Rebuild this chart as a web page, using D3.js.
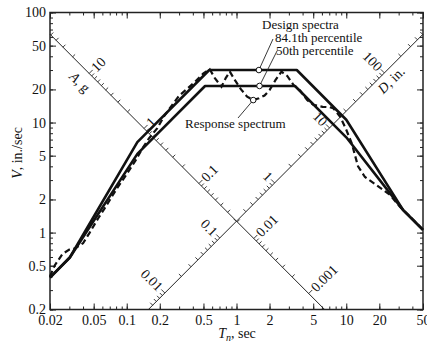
<!DOCTYPE html>
<html>
<head>
<meta charset="utf-8">
<script src="https://cdn.jsdelivr.net/npm/d3@7"></script>
<style>
  body { margin: 0; background: #fff; }
  svg text { font-family: "Liberation Serif", "Times New Roman", serif; fill: #111; }
</style>
</head>
<body>
<div id="chart"></div>
<script>
////////////////////////////////////////////////////
  // design spectra, T in sec and V in in./sec
  var design84_T = [0.02, 0.0303, 0.125, 0.565, 3.54, 10, 33, 50];
  var design84_V = [0.39, 0.594, 6.64, 30.0, 30.0, 10.6, 1.6, 1.06];
  var design50_T = [0.02, 0.0303, 0.125, 0.517, 3.41, 10, 33, 50];
  var design50_V = [0.39, 0.594, 5.19, 21.5, 21.5, 7.34, 1.6, 1.06];

  // response spectrum (dashed)
  var response_T = [0.02, 0.022, 0.026, 0.030, 0.034, 0.040, 0.046, 0.055, 0.065, 0.08,
                    0.10, 0.12, 0.14, 0.16, 0.19, 0.22, 0.26, 0.30, 0.36, 0.42,
                    0.50, 0.57, 0.64, 0.73, 0.80, 0.87, 0.95, 1.1, 1.25, 1.42,
                    1.6, 1.8, 2.0, 2.27, 2.57, 2.9, 3.3, 3.8, 4.4, 5.0,
                    6.1, 7.0, 7.6, 8.8, 10, 11.2, 12.8, 14.8, 18.9, 25,
                    30.8, 40, 50];
  var response_V = [0.40, 0.50, 0.64, 0.70, 0.72, 0.80, 1.0, 1.35, 1.75, 2.45,
                    3.4, 4.5, 5.9, 7.2, 8.9, 11.5, 14.5, 17.5, 20.5, 23.5,
                    28, 30.5, 25, 21.2, 25.5, 29, 25, 20, 17.2, 16.0,
                    16.6, 17.6, 19.7, 24.4, 29.0, 26.5, 22, 19.5, 16, 14.5,
                    13.9, 13.8, 13.5, 11.3, 8.6, 6.5, 4.0, 3.2, 2.7, 2.2,
                    1.72, 1.33, 1.06];

  // tick labels
  var xLabels = [0.02, 0.05, 0.1, 0.2, 0.5, 1, 2, 5, 10, 20, 50];
  var yLabels = [0.2, 0.5, 1, 2, 5, 10, 20, 50, 100];
  var aLabels = [10, 1, 0.1, 0.01, 0.001];   // A, g
  var dLabels = [0.01, 0.1, 1, 10, 100];     // D, in.

  // markers on the curves (T, V)
  var markT = [1.6, 1.62, 1.42];
  var markV = [30.0, 21.5, 16.0];

////////////////////////////////////////////////////

  var W = 427, H = 349;
  var margin = {top: 12.5, right: 4, bottom: 39.5, left: 50};
  var width = W - margin.left - margin.right,
      height = H - margin.top - margin.bottom;

  var g_over_2pi = 386.09 / (2 * Math.PI);
  var c_axis = 1.27;   // diagonal axes: V*T = c (A axis), V/T = c (D axis)

  var xScale = d3.scaleLog().domain([0.02, 50]).range([0, width]);
  var yScale = d3.scaleLog().domain([0.2, 100]).range([height, 0]);

  var svg = d3.select("#chart").append("svg")
      .attr("width", W)
      .attr("height", H)
      .append("g")
      .attr("transform", "translate(" + margin.left + "," + margin.top + ")");

  function logTicks(lo, hi) {
    var out = [];
    for (var k = -3; k <= 3; k++) {
      for (var m = 1; m <= 9; m++) {
        var v = +(m * Math.pow(10, k)).toPrecision(6);
        if (v >= lo * 0.9999 && v <= hi * 1.0001) out.push(v);
      }
    }
    return out;
  }

  var fmt = function(d) { return d3.format("~g")(d); };

  ////// Axes (ticks inward) /////////////
  var xMinor = logTicks(0.02, 50);
  var yMinor = logTicks(0.2, 100);

  svg.append("g").attr("class", "axis")
      .attr("transform", "translate(0," + height + ")")
      .call(d3.axisBottom(xScale).tickValues(xMinor).tickSize(-3).tickFormat(""));
  svg.append("g").attr("class", "axis")
      .attr("transform", "translate(0," + height + ")")
      .call(d3.axisBottom(xScale).tickValues(xLabels).tickSize(-6).tickPadding(6).tickFormat(fmt));
  svg.append("g").attr("class", "axis")
      .call(d3.axisTop(xScale).tickValues(xMinor).tickSize(-3).tickFormat(""));
  svg.append("g").attr("class", "axis")
      .call(d3.axisTop(xScale).tickValues(xLabels).tickSize(-6).tickFormat(""));

  svg.append("g").attr("class", "axis")
      .call(d3.axisLeft(yScale).tickValues(yMinor).tickSize(-3).tickFormat(""));
  svg.append("g").attr("class", "axis")
      .call(d3.axisLeft(yScale).tickValues(yLabels).tickSize(-6).tickPadding(4).tickFormat(fmt));
  svg.append("g").attr("class", "axis")
      .attr("transform", "translate(" + width + ",0)")
      .call(d3.axisRight(yScale).tickValues(yMinor).tickSize(-3).tickFormat(""));
  svg.append("g").attr("class", "axis")
      .attr("transform", "translate(" + width + ",0)")
      .call(d3.axisRight(yScale).tickValues(yLabels).tickSize(-6).tickFormat(""));

  svg.selectAll(".axis .domain").remove();
  svg.selectAll(".axis line").attr("stroke", "#222").attr("stroke-width", 1);
  svg.selectAll(".axis text").attr("font-size", 14).attr("fill", "#111");

  svg.append("rect")
      .attr("width", width).attr("height", height)
      .attr("fill", "none").attr("stroke", "#222").attr("stroke-width", 1.5);

  ////// Diagonal axes /////////////
  var diag = svg.append("g").attr("class", "diag");
  var s2 = Math.SQRT1_2;

  // A axis: V = c/T, from left edge down to bottom edge
  var aStart = [0.02, c_axis / 0.02], aEnd = [c_axis / 0.2, 0.2];
  diag.append("line")
      .attr("x1", xScale(aStart[0])).attr("y1", yScale(aStart[1]))
      .attr("x2", xScale(aEnd[0])).attr("y2", yScale(aEnd[1]))
      .attr("stroke", "#222").attr("stroke-width", 1);

  // D axis: V = c*T, from bottom edge up to right edge
  var dStart = [0.2 / c_axis, 0.2], dEnd = [50, c_axis * 50];
  diag.append("line")
      .attr("x1", xScale(dStart[0])).attr("y1", yScale(dStart[1]))
      .attr("x2", xScale(dEnd[0])).attr("y2", yScale(dEnd[1]))
      .attr("stroke", "#222").attr("stroke-width", 1);

  function aPoint(a) {   // where the A axis meets the constant-A line
    var T = Math.sqrt(c_axis / (g_over_2pi * a));
    return [xScale(T), yScale(c_axis / T), T];
  }
  function dPoint(d) {   // where the D axis meets the constant-D line
    var T = Math.sqrt(2 * Math.PI * d / c_axis);
    return [xScale(T), yScale(c_axis * T), T];
  }

  var aTicks = logTicks(0.0001, 100).filter(function(a) {
    var p = aPoint(a); return p[2] >= 0.02 && p[2] <= aEnd[0];
  });
  var dTicks = logTicks(0.0001, 1000).filter(function(d) {
    var p = dPoint(d); return p[2] >= dStart[0] && p[2] <= 50;
  });

  diag.selectAll(".atick").data(aTicks).enter().append("line")
      .attr("class", "atick")
      .attr("x1", function(d) { return aPoint(d)[0]; })
      .attr("y1", function(d) { return aPoint(d)[1]; })
      .attr("x2", function(d) { var L = aLabels.indexOf(d) >= 0 ? 5 : 3.5; return aPoint(d)[0] + L * s2; })
      .attr("y2", function(d) { var L = aLabels.indexOf(d) >= 0 ? 5 : 3.5; return aPoint(d)[1] - L * s2; })
      .attr("stroke", "#222").attr("stroke-width", 0.9);

  diag.selectAll(".dtick").data(dTicks).enter().append("line")
      .attr("class", "dtick")
      .attr("x1", function(d) { return dPoint(d)[0]; })
      .attr("y1", function(d) { return dPoint(d)[1]; })
      .attr("x2", function(d) { var L = dLabels.indexOf(d) >= 0 ? 5 : 3.5; return dPoint(d)[0] - L * s2; })
      .attr("y2", function(d) { var L = dLabels.indexOf(d) >= 0 ? 5 : 3.5; return dPoint(d)[1] - L * s2; })
      .attr("stroke", "#222").attr("stroke-width", 0.9);

  diag.selectAll(".alab").data(aLabels).enter().append("text")
      .attr("class", "alab")
      .attr("font-size", 14)
      .attr("text-anchor", "start")
      .attr("dy", "0.35em")
      .attr("transform", function(d) {
        var p = aPoint(d);
        return "translate(" + (p[0] + 6 * s2) + "," + (p[1] - 6 * s2) + ") rotate(-45)";
      })
      .text(fmt);

  diag.selectAll(".dlab").data(dLabels).enter().append("text")
      .attr("class", "dlab")
      .attr("font-size", 14)
      .attr("text-anchor", "end")
      .attr("dy", "0.35em")
      .attr("transform", function(d) {
        var p = dPoint(d);
        return "translate(" + (p[0] - 6 * s2) + "," + (p[1] - 6 * s2) + ") rotate(45)";
      })
      .text(fmt);

  var aTitle = diag.append("text")
      .attr("font-size", 14).attr("text-anchor", "middle").attr("dy", "0.35em")
      .attr("transform", "translate(" + (80 - margin.left) + "," + (82 - margin.top) + ") rotate(45)");
  aTitle.append("tspan").attr("font-style", "italic").text("A");
  aTitle.append("tspan").text(", g");

  var dTitle = diag.append("text")
      .attr("font-size", 14).attr("text-anchor", "middle").attr("dy", "0.35em")
      .attr("transform", "translate(" + (391 - margin.left) + "," + (80 - margin.top) + ") rotate(-45)");
  dTitle.append("tspan").attr("font-style", "italic").text("D");
  dTitle.append("tspan").text(", in.");

  ////// Curves /////////////
  var line = d3.line()
      .x(function(d) { return xScale(d[0]); })
      .y(function(d) { return yScale(d[1]); });

  var d84 = d3.zip(design84_T, design84_V);
  var d50 = d3.zip(design50_T, design50_V);
  var resp = d3.zip(response_T, response_V);

  svg.append("path").datum(resp)
      .attr("d", line).attr("fill", "none")
      .attr("stroke", "#111").attr("stroke-width", 2.2)
      .attr("stroke-dasharray", "6,3.5");

  [d84, d50].forEach(function(ds) {
    svg.append("path").datum(ds)
        .attr("d", line).attr("fill", "none")
        .attr("stroke", "#111").attr("stroke-width", 2.6)
        .attr("stroke-linejoin", "round");
  });

  ////// Annotations /////////////
  var marks = d3.zip(markT, markV);
  var leaderEnds = [[273, 39], [277, 51], [238, 118]];

  svg.selectAll(".leader").data(marks).enter().append("line")
      .attr("class", "leader")
      .attr("x1", function(d) { return xScale(d[0]); })
      .attr("y1", function(d) { return yScale(d[1]); })
      .attr("x2", function(d, i) { return leaderEnds[i][0] - margin.left; })
      .attr("y2", function(d, i) { return leaderEnds[i][1] - margin.top; })
      .attr("stroke", "#222").attr("stroke-width", 0.9);

  svg.selectAll(".mark").data(marks).enter().append("circle")
      .attr("class", "mark")
      .attr("cx", function(d) { return xScale(d[0]); })
      .attr("cy", function(d) { return yScale(d[1]); })
      .attr("r", 2.8)
      .attr("fill", "#fff").attr("stroke", "#111").attr("stroke-width", 1);

  var notes = [
    {t: "Design spectra", x: 262, y: 24.5},
    {t: "84.1th percentile", x: 275, y: 37.5},
    {t: "50th percentile", x: 276, y: 50.5},
    {t: "Response spectrum", x: 185, y: 123}
  ];
  svg.selectAll(".note").data(notes).enter().append("text")
      .attr("class", "note")
      .attr("x", function(d) { return d.x - margin.left; })
      .attr("y", function(d) { return d.y - margin.top; })
      .attr("dy", "0.35em")
      .attr("font-size", 13)
      .text(function(d) { return d.t; });

  ////// Axis titles /////////////
  var yt = svg.append("text")
      .attr("font-size", 14).attr("text-anchor", "middle").attr("dy", "0.35em")
      .attr("transform", "translate(" + (17 - margin.left) + "," + (153 - margin.top) + ") rotate(-90)");
  yt.append("tspan").attr("font-style", "italic").text("V");
  yt.append("tspan").text(", in./sec");

  var xt = svg.append("text")
      .attr("font-size", 14).attr("text-anchor", "middle")
      .attr("x", 237 - margin.left).attr("y", 338 - margin.top);
  xt.append("tspan").attr("font-style", "italic").text("T");
  xt.append("tspan").attr("font-style", "italic").attr("font-size", 10).attr("dy", 3).text("n");
  xt.append("tspan").attr("dy", -3).text(", sec");
</script>
</body>
</html>
